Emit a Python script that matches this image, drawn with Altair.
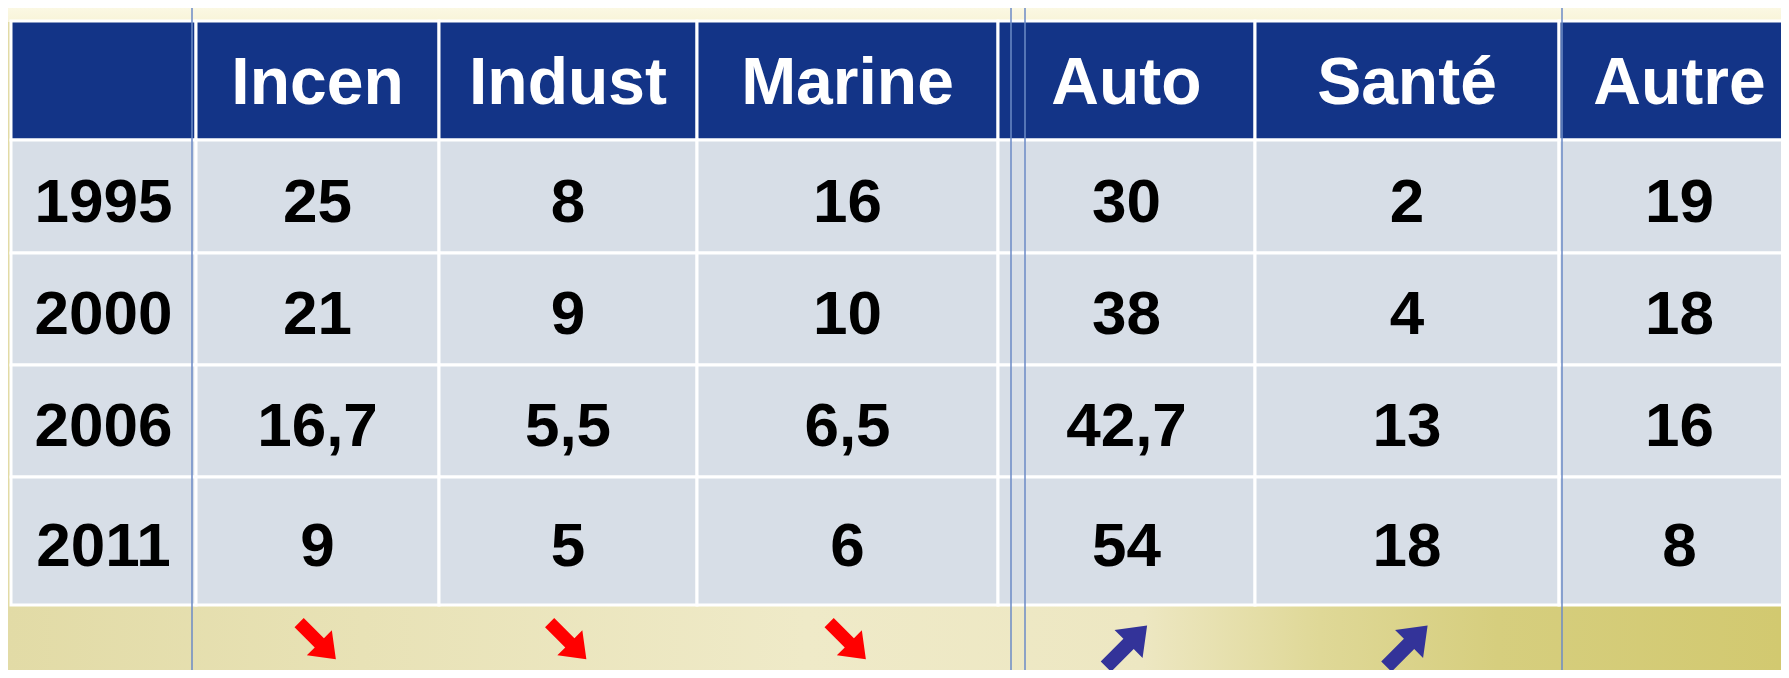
import altair as alt
import pandas as pd

# ---- data ----
years = ["1995", "2000", "2006", "2011"]
sectors = ["Incen", "Indust", "Marine", "Auto", "Santé", "Autre"]
incen = [25, 21, 16.7, 9]
indust = [8, 9, 5.5, 5]
marine = [16, 10, 6.5, 6]
auto = [30, 38, 42.7, 54]
sante = [2, 4, 13, 18]
autre = [19, 18, 16, 8]
trend = ["down", "down", "down", "up", "up", ""]

# ---- layout (reference pixel units) ----
col_edges = [11, 196, 439, 697, 998, 1255, 1559, 1800]
row_edges = [21, 140, 253, 365, 477, 605]
groups = [(192, 1011), (1025, 1562)]
W, H = 1773, 662

series = [incen, indust, marine, auto, sante, autre]


def fmt(v):
    return f"{v:g}".replace(".", ",")


cells, texts = [], []
for r in range(len(row_edges) - 1):
    for c in range(len(col_edges) - 1):
        cells.append({
            "x": col_edges[c], "x2": col_edges[c + 1],
            "y": row_edges[r], "y2": row_edges[r + 1],
            "kind": "head" if r == 0 else "body",
        })
        if r == 0 and c == 0:
            continue
        if r == 0:
            label, kind = sectors[c - 1], "head"
        elif c == 0:
            label, kind = years[r - 1], "body"
        else:
            label, kind = fmt(series[c - 1][r - 1]), "body"
        texts.append({
            "xc": (col_edges[c] + col_edges[c + 1]) / 2,
            "yc": (row_edges[r] + row_edges[r + 1]) / 2,
            "label": label, "kind": kind,
        })

arrows = []
for c, t in enumerate(trend):
    if t:
        arrows.append({
            "xc": (col_edges[c + 1] + col_edges[c + 2]) / 2,
            "yc": 641 if t == "down" else 646,
            "trend": t,
        })

box = pd.DataFrame([{"x": a, "x2": b, "y": 6, "y2": 720} for a, b in groups])

xs = alt.Scale(domain=[8, 8 + W], nice=False, zero=False)
ys = alt.Scale(domain=[8, 8 + H], nice=False, zero=False, reverse=True)

one = pd.DataFrame({"a": [0]})

bg = alt.Chart(one).mark_rect(
    color=alt.Gradient(
        gradient="linear", x1=0, x2=1, y1=0, y2=0,
        stops=[
            alt.GradientStop(color="#E2DBA6", offset=0),
            alt.GradientStop(color="#E8E2B6", offset=0.2),
            alt.GradientStop(color="#EFEAC8", offset=0.45),
            alt.GradientStop(color="#EDE7C2", offset=0.64),
            alt.GradientStop(color="#DFD897", offset=0.74),
            alt.GradientStop(color="#D6CE7E", offset=0.84),
            alt.GradientStop(color="#D2C970", offset=1),
        ],
    )
).encode(x=alt.value(0), x2=alt.value(W), y=alt.value(0), y2=alt.value(H))

top = alt.Chart(one).mark_rect(
    color=alt.Gradient(
        gradient="linear", x1=0, x2=0, y1=0, y2=1,
        stops=[
            alt.GradientStop(color="#FBF8E3", offset=0),
            alt.GradientStop(color="#F8F4D8", offset=1),
        ],
    )
).encode(x=alt.value(0), x2=alt.value(W), y=alt.value(0), y2=alt.value(14))

cell_layer = alt.Chart(pd.DataFrame(cells)).mark_rect(
    stroke="white", strokeWidth=3, clip=True
).encode(
    x=alt.X("x:Q", scale=xs, axis=None),
    x2="x2:Q",
    y=alt.Y("y:Q", scale=ys, axis=None),
    y2="y2:Q",
    color=alt.Color("kind:N", scale=alt.Scale(domain=["head", "body"],
                                                range=["#133487", "#D7DEE7"]),
                    legend=None),
)

tdf = pd.DataFrame(texts)
head_text = alt.Chart(tdf).transform_filter("datum.kind == 'head'").mark_text(
    font="Liberation Sans", fontWeight="bold", fontSize=66, color="white",
    baseline="middle", align="center", dy=3
).encode(x=alt.X("xc:Q", scale=xs), y=alt.Y("yc:Q", scale=ys), text="label:N")

body_text = alt.Chart(tdf).transform_filter("datum.kind == 'body'").mark_text(
    font="Liberation Sans", fontWeight="bold", fontSize=62, color="black",
    baseline="middle", align="center", dy=6
).encode(x=alt.X("xc:Q", scale=xs), y=alt.Y("yc:Q", scale=ys), text="label:N")

arrow_path = "M -1 -0.25 L 0.1 -0.25 L 0.1 -0.68 L 1 0 L 0.1 0.68 L 0.1 0.25 L -1 0.25 Z"
adf = pd.DataFrame(arrows)
down = alt.Chart(adf).transform_filter("datum.trend == 'down'").mark_point(
    shape=arrow_path, filled=True, color="#FF0000", opacity=1, size=2700, angle=45,
    strokeWidth=0
).encode(x=alt.X("xc:Q", scale=xs), y=alt.Y("yc:Q", scale=ys))
up = alt.Chart(adf).transform_filter("datum.trend == 'up'").mark_point(
    shape=arrow_path, filled=True, color="#333399", opacity=1, size=3400, angle=315,
    strokeWidth=0
).encode(x=alt.X("xc:Q", scale=xs), y=alt.Y("yc:Q", scale=ys))

outline = alt.Chart(box).mark_rect(
    fill=None, fillOpacity=0, stroke="#6C8BC6", strokeWidth=1.5, clip=True
).encode(
    x=alt.X("x:Q", scale=xs), x2="x2:Q",
    y=alt.Y("y:Q", scale=ys), y2="y2:Q",
)

chart = alt.layer(bg, top, cell_layer, head_text, body_text, down, up, outline).properties(
    width=W, height=H, padding=0, autosize=alt.AutoSizeParams(type="none"),
    background="#ECE6BE",
).configure_view(stroke=None)

chart.save("out.html", embed_options={"renderer": "svg", "actions": False})
